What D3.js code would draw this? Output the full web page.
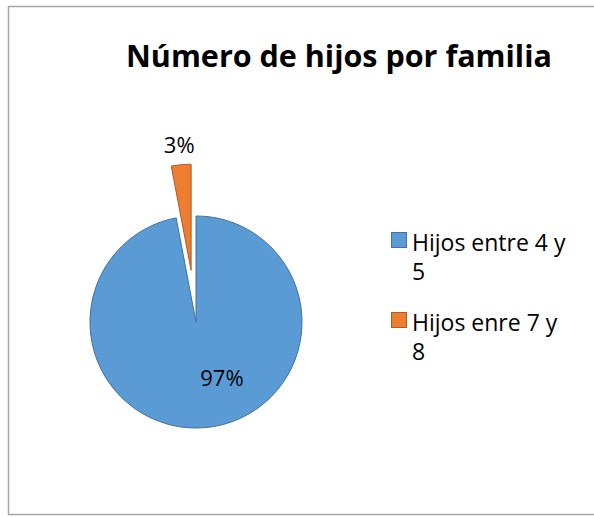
<!DOCTYPE html>
<html lang="es">
<head>
    <meta charset="UTF-8">
    <title>Número de hijos por familia</title>
    <script src="https://d3js.org/d3.v7.min.js"></script>
    <style>
        body {
            margin: 0;
            padding: 0;
            background-color: white;
        }
        svg {
            display: block;
            font-family: "Open Sans", sans-serif;
        }
    </style>
</head>
<body>
    <div id="chart"></div>
    <script>
        // data
        const categories = ["Hijos entre 4 y 5", "Hijos enre 7 y 8"];
        const legendLines = [["Hijos entre 4 y", "5"], ["Hijos enre 7 y", "8"]];
        const shares = [97, 3];
        const labels = ["97%", "3%"];
        const fills = ["#5B9BD5", "#ED7D31"];
        const strokes = ["#41719C", "#AE5A21"];

        const width = 594, height = 517;
        const cx = 196, cy = 322, radius = 106;
        const explode = [0, 52];

        const svg = d3.select("#chart")
            .append("svg")
            .attr("width", width)
            .attr("height", height);

        // chart border
        svg.append("rect")
            .attr("x", 8.5)
            .attr("y", 6.5)
            .attr("width", 600)
            .attr("height", 508)
            .attr("fill", "white")
            .attr("stroke", "#a6a6a6")
            .attr("stroke-width", 1.5);

        svg.append("text")
            .attr("x", 339)
            .attr("y", 67)
            .attr("text-anchor", "middle")
            .style("font-size", "30.5px")
            .style("font-weight", "bold")
            .attr("fill", "#000")
            .text("Número de hijos por familia");

        const pie = d3.pie().sort(null).value(d => d)(shares);
        const arc = d3.arc().innerRadius(0).outerRadius(radius);

        const g = svg.append("g").attr("transform", `translate(${cx},${cy})`);

        const offset = (d, i) => {
            const a = (d.startAngle + d.endAngle) / 2;
            return [Math.sin(a) * explode[i], -Math.cos(a) * explode[i]];
        };

        g.selectAll("path")
            .data(pie)
            .join("path")
            .attr("d", arc)
            .attr("transform", (d, i) => `translate(${offset(d, i)})`)
            .attr("fill", (d, i) => fills[i])
            .attr("stroke", (d, i) => strokes[i])
            .attr("stroke-width", 1);

        // data labels: big slice sits lower right, small one above its exploded wedge
        const labelPos = (d, i) => {
            if (i === 0) {
                const a = 2.71, r = 62;
                return [Math.sin(a) * r, -Math.cos(a) * r];
            }
            const a = (d.startAngle + d.endAngle) / 2, r = 178;
            return [Math.sin(a) * r, -Math.cos(a) * r];
        };

        g.selectAll("text.lbl")
            .data(pie)
            .join("text")
            .attr("class", "lbl")
            .attr("transform", (d, i) => `translate(${labelPos(d, i)})`)
            .attr("text-anchor", "middle")
            .attr("dy", "0.36em")
            .style("font-size", "22px")
            .attr("fill", "#000")
            .text((d, i) => labels[i]);

        // legend
        const legend = svg.append("g").attr("transform", "translate(391,232)");
        const item = legend.selectAll("g")
            .data(categories)
            .join("g")
            .attr("transform", (d, i) => `translate(0,${i * 80})`);

        item.append("rect")
            .attr("x", 0.5)
            .attr("y", 0.5)
            .attr("width", 15)
            .attr("height", 15)
            .attr("fill", (d, i) => fills[i])
            .attr("stroke", (d, i) => strokes[i]);

        item.append("text")
            .attr("x", 21)
            .attr("y", 19)
            .style("font-size", "23px")
            .attr("fill", "#000")
            .selectAll("tspan")
            .data((d, i) => legendLines[i])
            .join("tspan")
            .attr("x", 21)
            .attr("dy", (d, j) => j === 0 ? 0 : 29)
            .text(d => d);
    </script>
</body>
</html>
